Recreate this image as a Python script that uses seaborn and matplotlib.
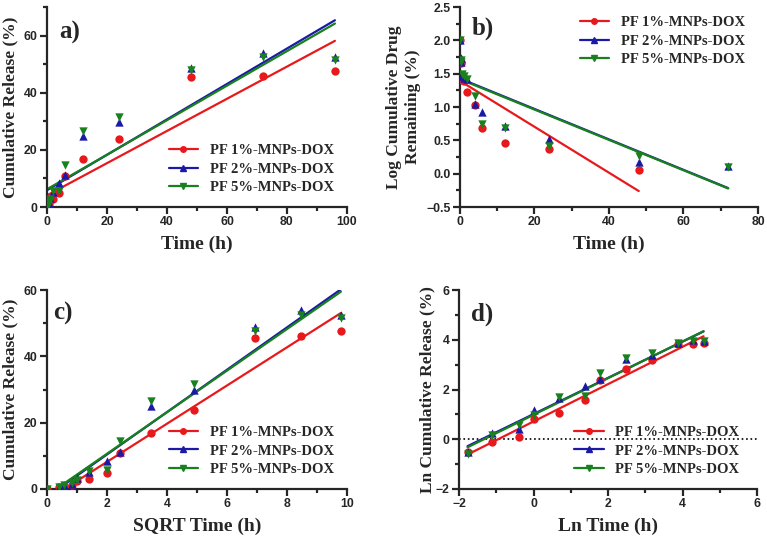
import numpy as np
import pandas as pd
import matplotlib
matplotlib.use('Agg')
import matplotlib.pyplot as plt
from matplotlib.lines import Line2D
from matplotlib.ticker import MultipleLocator
import seaborn as sns

# ----------------------------------------------------
# Data
# ----------------------------------------------------
time_h = [0, 0.17, 0.33, 0.67, 1, 2, 4, 6, 12, 24, 48, 72, 96]

release_pf1 = [0, 0.6, 0.9, 1.1, 2.3, 2.9, 4.8, 10.8, 16.8, 23.8, 45.6, 46.0, 47.6]
release_pf2 = [0, 0.6, 1.3, 1.5, 3.2, 5.2, 8.4, 11.2, 25.0, 29.8, 48.8, 54.0, 52.5]
release_pf5 = [0, 0.55, 1.2, 1.8, 2.7, 5.5, 5.6, 14.6, 26.5, 31.6, 47.8, 52.5, 51.5]

# log cumulative drug remaining (panel b)
b_time_pf1 = [0, 0.17, 0.33, 0.67, 1, 2, 4, 6, 12, 24, 48]
b_logrem_pf1 = [2.0, 1.67, 1.66, 1.40, 1.39, 1.23, 1.03, 0.68, 0.46, 0.37, 0.05]
b_time_pf2 = [0, 0.17, 0.33, 0.67, 1, 2, 4, 6, 12, 24, 48, 72]
b_logrem_pf2 = [2.0, 1.73, 1.67, 1.47, 1.44, 1.42, 1.05, 0.93, 0.72, 0.52, 0.18, 0.12]
b_time_pf5 = [0, 0.17, 0.33, 0.67, 1, 2, 4, 6, 12, 24, 48, 72]
b_logrem_pf5 = [2.0, 1.70, 1.68, 1.50, 1.46, 1.42, 1.17, 0.75, 0.69, 0.41, 0.26, 0.10]

series = ['PF 1%-MNPs-DOX', 'PF 2%-MNPs-DOX', 'PF 5%-MNPs-DOX']
colors = ['#e8191c', '#1a1aa6', '#19801e']
markers = ['o', '^', 'v']

releases = [release_pf1, release_pf2, release_pf5]
b_times = [b_time_pf1, b_time_pf2, b_time_pf5]
b_logrems = [b_logrem_pf1, b_logrem_pf2, b_logrem_pf5]

# ----------------------------------------------------
# Style
# ----------------------------------------------------
sns.set_theme(style='ticks')
plt.rcParams['font.family'] = ['Liberation Sans', 'DejaVu Sans']
plt.rcParams['font.weight'] = 'bold'
plt.rcParams['axes.linewidth'] = 1.6
for k in ['xtick', 'ytick']:
    plt.rcParams[k + '.major.width'] = 1.6
    plt.rcParams[k + '.minor.width'] = 1.6
    plt.rcParams[k + '.major.size'] = 5
    plt.rcParams[k + '.minor.size'] = 3
    plt.rcParams[k + '.labelsize'] = 8.8
    plt.rcParams[k + '.major.pad'] = 1.8

serif = {'family': 'Liberation Serif', 'weight': 'bold'}

fig = plt.figure(figsize=(7.67, 5.42), dpi=100)
ax_a = fig.add_axes([0.0613, 0.618, 0.391, 0.369])
ax_b = fig.add_axes([0.5997, 0.618, 0.3885, 0.369])
ax_c = fig.add_axes([0.0613, 0.0978, 0.391, 0.367])
ax_d = fig.add_axes([0.5985, 0.0978, 0.3885, 0.367])


def draw(ax, xs, ys, fit_mask=None):
    for x, y, name, col, mk in zip(xs, ys, series, colors, markers):
        x = np.asarray(x, dtype=float)
        y = np.asarray(y, dtype=float)
        df = pd.DataFrame({'x': x, 'y': y})
        fit_df = df if fit_mask is None else df[fit_mask(df)]
        sns.regplot(data=fit_df, x='x', y='y', ax=ax, scatter=False, ci=None,
                    truncate=True, color=col, line_kws={'lw': 1.6})
        sns.scatterplot(data=df, x='x', y='y', ax=ax, color=col, marker=mk,
                        s=36, edgecolor=col, linewidth=0, zorder=3)


def legend(ax, **kw):
    handles = [Line2D([], [], color=c, marker=m, lw=1.6, markersize=4)
               for c, m in zip(colors, markers)]
    ax.legend(handles, series, frameon=False, prop={**serif, 'size': 10.5},
              handlelength=2.0, handletextpad=0.8, labelspacing=0.35, **kw)


def finish(ax, xlabel, ylabel, tag, tagpos, ylab_x):
    ax.set_xlabel(xlabel, fontdict={**serif, 'size': 14}, labelpad=5)
    ax.set_ylabel(ylabel, fontdict={**serif, 'size': 12.5}, va='center')
    ax.yaxis.set_label_coords(ylab_x, 0.5)
    ax.text(tagpos[0], tagpos[1], tag, transform=ax.transAxes, ha='left',
            va='center', fontdict={**serif, 'size': 18})
    for s in ['top', 'right']:
        ax.spines[s].set_visible(False)
    for lab in ax.get_xticklabels() + ax.get_yticklabels():
        lab.set_fontweight('bold')


# a) zero-order
draw(ax_a, [time_h] * 3, releases)
ax_a.set_xlim(0, 100)
ax_a.set_ylim(0, 70)
ax_a.xaxis.set_major_locator(MultipleLocator(20))
ax_a.xaxis.set_minor_locator(MultipleLocator(10))
ax_a.yaxis.set_major_locator(MultipleLocator(20))
ax_a.yaxis.set_minor_locator(MultipleLocator(10))
legend(ax_a, loc='lower right', bbox_to_anchor=(1.0, 0.0))
finish(ax_a, 'Time (h)', 'Cumulative Release (%)', 'a)', (0.04, 0.875), -0.122)

# b) first-order
draw(ax_b, b_times, b_logrems)
ax_b.set_xlim(0, 80)
ax_b.set_ylim(-0.5, 2.5)
ax_b.xaxis.set_major_locator(MultipleLocator(20))
ax_b.xaxis.set_minor_locator(MultipleLocator(10))
ax_b.yaxis.set_major_locator(MultipleLocator(0.5))
ax_b.yaxis.set_minor_locator(MultipleLocator(0.25))
legend(ax_b, loc='upper right', bbox_to_anchor=(1.0, 1.02))
finish(ax_b, 'Time (h)', 'Log Cumulative Drug\nRemaining (%)', 'b)', (0.04, 0.895), -0.19)

# c) Higuchi
sqrt_t = [np.sqrt(time_h)] * 3
draw(ax_c, sqrt_t, releases, fit_mask=lambda d: d['x'] > 0)
ax_c.set_xlim(0, 10)
ax_c.set_ylim(0, 60)
ax_c.xaxis.set_major_locator(MultipleLocator(2))
ax_c.xaxis.set_minor_locator(MultipleLocator(1))
ax_c.yaxis.set_major_locator(MultipleLocator(20))
ax_c.yaxis.set_minor_locator(MultipleLocator(10))
legend(ax_c, loc='lower right', bbox_to_anchor=(1.0, 0.0))
finish(ax_c, 'SQRT Time (h)', 'Cumulative Release (%)', 'c)', (0.02, 0.88), -0.122)

# d) Korsmeyer-Peppas
ln_t = [np.log(time_h[1:])] * 3
ln_rel = [np.log(r[1:]) for r in releases]
draw(ax_d, ln_t, ln_rel)
ax_d.axhline(0, color='black', ls=':', lw=1.2, zorder=1)
ax_d.set_xlim(-2, 6)
ax_d.set_ylim(-2, 6)
ax_d.xaxis.set_major_locator(MultipleLocator(2))
ax_d.xaxis.set_minor_locator(MultipleLocator(1))
ax_d.yaxis.set_major_locator(MultipleLocator(2))
ax_d.yaxis.set_minor_locator(MultipleLocator(1))
legend(ax_d, loc='lower right', bbox_to_anchor=(0.985, 0.0))
finish(ax_d, 'Ln Time (h)', 'Ln Cumulative Release (%)', 'd)', (0.04, 0.88), -0.107)

fig.savefig('out.png', dpi=100)
